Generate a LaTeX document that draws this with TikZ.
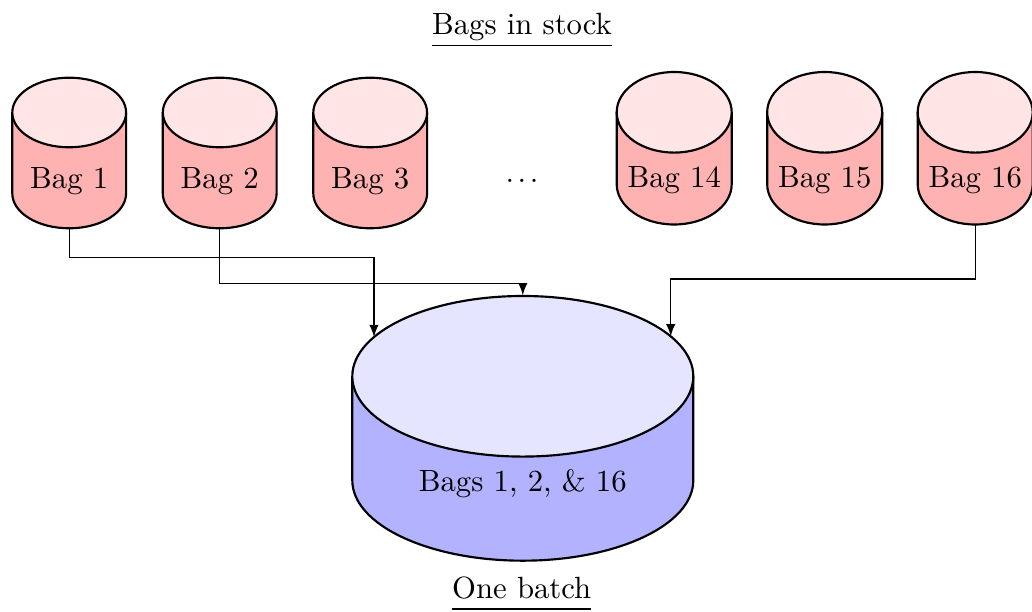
\documentclass[tikz,border=0pt]{standalone}
\usetikzlibrary{calc}
\def\pxu{0.3257pt}
\colorlet{bagtop}{red!10}
\colorlet{bagbody}{red!30}
\colorlet{battop}{blue!10}
\colorlet{batbody}{blue!30}
\tikzset{
  cylline/.style={line width=0.7pt,line join=round},
  conn/.style={line width=0.4pt,-latex},
  lbl/.style={anchor=base,inner sep=0pt}
}
% #1 name, #2 cx, #3 top-ellipse centre y, #4 bottom-ellipse centre y, #5 rx, #6 ry, #7 top colour, #8 body colour
\newcommand\drawcyl[8]{%
  \filldraw[fill=#8,cylline] (#2-#5,#3) -- (#2-#5,#4)
     arc[start angle=180,end angle=360,x radius={#5*\pxu},y radius={#6*\pxu}]
     -- (#2+#5,#3) -- cycle;
  \filldraw[fill=#7,cylline] (#2,#3) ellipse [x radius={#5*\pxu}, y radius={#6*\pxu}];
  \node[inner sep=0pt,minimum width={2*#5*\pxu},minimum height={(#4-#3+2*#6)*\pxu}] (#1) at (#2,{(#3+#4)/2}) {};
  \coordinate (#1top) at (#2,#3);
}
\begin{document}
\begin{tikzpicture}[x=\pxu,y=-\pxu]
\useasboundingbox (0,0) rectangle (1032,612);
% bags in stock (left group)
\drawcyl{b1}{69.2}{112.5}{193.5}{56.9}{34.8}{bagtop}{bagbody}
\drawcyl{b2}{219.7}{112.5}{193.5}{56.9}{34.8}{bagtop}{bagbody}
\drawcyl{b3}{370.2}{112.5}{193.5}{56.9}{34.8}{bagtop}{bagbody}
% right group
\drawcyl{b14}{674.2}{112.3}{184.2}{57.5}{40.3}{bagtop}{bagbody}
\drawcyl{b15}{824.7}{112.3}{184.2}{57.5}{40.3}{bagtop}{bagbody}
\drawcyl{b16}{975.2}{112.3}{184.2}{57.5}{40.3}{bagtop}{bagbody}
% batch
\drawcyl{big}{522.8}{376.3}{480.4}{170.5}{80.3}{battop}{batbody}

\node[lbl] (l1) at (69.2,189) {Bag 1};
\node[lbl] (l2) at (219.7,189) {Bag 2};
\node[lbl] (l3) at (370.2,189) {Bag 3};
\node[lbl] (dots) at (522,182.4) {.\kern1.15pt.\kern1.15pt.};
\node[lbl] (l14) at (674.2,187.7) {Bag 14};
\node[lbl] (l15) at (824.7,187.7) {Bag 15};
\node[lbl] (l16) at (975.2,187.7) {Bag 16};
\node[lbl] (lbig) at (522.8,491.7) {Bags 1, 2, \& 16};

\node[lbl] (title) at (522,35) {\underline{Bags in stock}};
\node[lbl] (batch) at (521.7,598.3) {\underline{One batch\vphantom{g}}};

\coordinate (bigL) at ($(bigtop)+(209.2:170.5 and 80.3)$);
\coordinate (bigR) at ($(bigtop)+(-29.8:170.5 and 80.3)$);

\draw[conn] (b1.south) -- ++(0,28.4) -| (bigL);
\draw[conn] (b2.south) -- ++(0,54.4) -| (big.north);
\draw[conn] (b16.south) -- ++(0,54) -| (bigR);
\end{tikzpicture}
\end{document}
